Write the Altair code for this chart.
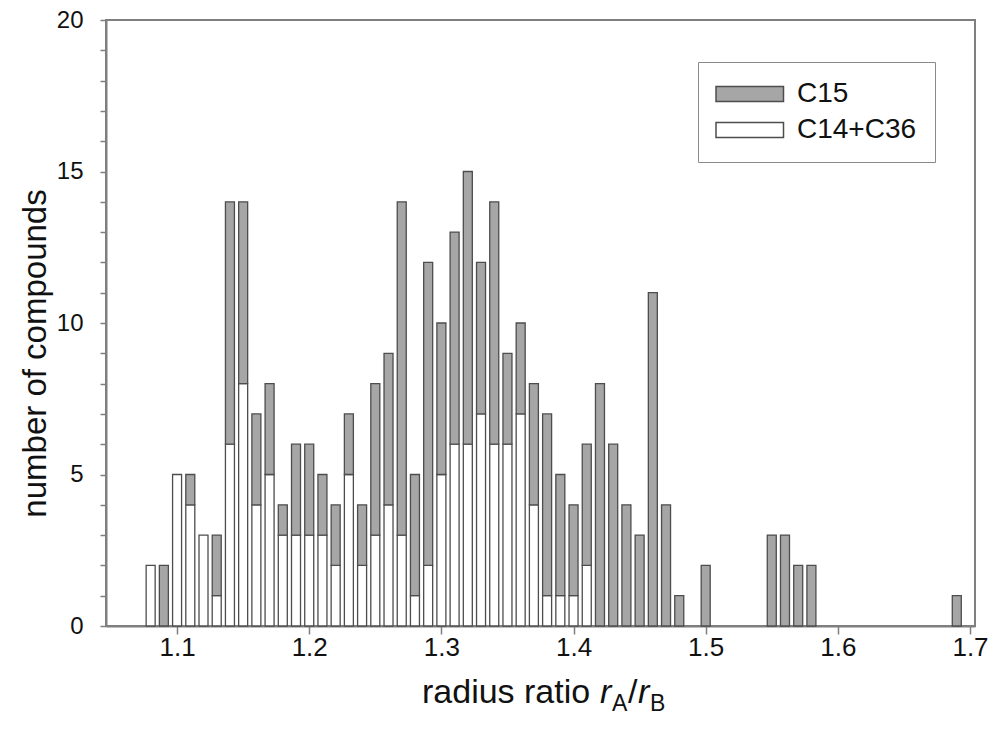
import altair as alt
import pandas as pd

# radius ratio bins (bar centres)
ratio = [1.08, 1.09, 1.10, 1.11, 1.12, 1.13, 1.14, 1.15, 1.16, 1.17,
         1.18, 1.19, 1.20, 1.21, 1.22, 1.23, 1.24, 1.25, 1.26, 1.27,
         1.28, 1.29, 1.30, 1.31, 1.32, 1.33, 1.34, 1.35, 1.36, 1.37,
         1.38, 1.39, 1.40, 1.41, 1.42, 1.43, 1.44, 1.45, 1.46, 1.47,
         1.48, 1.50, 1.55, 1.56, 1.57, 1.58, 1.69]
# C14+C36 counts (white, bottom of stack)
c14_c36 = [2, 0, 5, 4, 3, 1, 6, 8, 4, 5,
           3, 3, 3, 3, 2, 5, 2, 3, 4, 3,
           1, 2, 5, 6, 6, 7, 6, 6, 7, 4,
           1, 1, 1, 2, 0, 0, 0, 0, 0, 0,
           0, 0, 0, 0, 0, 0, 0]
# C15 counts (grey, top of stack)
c15 = [0, 2, 0, 1, 0, 2, 8, 6, 3, 3,
       1, 3, 3, 2, 2, 2, 2, 5, 5, 11,
       4, 10, 5, 7, 9, 5, 8, 3, 3, 4,
       6, 4, 3, 4, 8, 6, 4, 3, 11, 4,
       1, 2, 3, 3, 2, 2, 1]

series_names = ["C15", "C14+C36"]
series_colors = ["#a6a6a6", "#ffffff"]
x_ticks = [1.1, 1.2, 1.3, 1.4, 1.5, 1.6, 1.7]
y_ticks = list(range(0, 21))

rows = []
for r, w, g in zip(ratio, c14_c36, c15):
    rows.append({"ratio": r, "series": "C14+C36", "count": w, "ord": 0})
    rows.append({"ratio": r, "series": "C15", "count": g, "ord": 1})
df = pd.DataFrame(rows)

FONT = "Liberation Sans"
W, H = 869, 606

bars = alt.Chart(df).transform_filter("datum.count > 0").mark_bar(
    size=9, stroke="#4d4d4d", strokeWidth=1.3
).encode(
    x=alt.X("ratio:Q",
            scale=alt.Scale(domain=[1.05, 1.7], nice=False, zero=False),
            axis=alt.Axis(values=x_ticks, format=".1f", title=None,
                          tickSize=8, labelPadding=0, labelFontSize=26,
                          labelFlush=False)),
    y=alt.Y("count:Q", stack="zero",
            scale=alt.Scale(domain=[0, 20], nice=False),
            axis=alt.Axis(values=y_ticks, tickSize=6, labelPadding=17,
                          labelFontSize=24,
                          labelExpr="datum.value == 20 ? '20\u00a0\u00a0\u00a0\u00a0' : (datum.value % 5 == 0 ? datum.label : '')",
                          title="number of compounds", titleFontSize=33,
                          titleFontWeight="normal", titleAngle=-90,
                          titleX=-71, titleY=H / 2 + 30, titleAlign="center",
                          titleBaseline="middle")),
    color=alt.Color("series:N",
                    scale=alt.Scale(domain=series_names, range=series_colors),
                    legend=alt.Legend(
                        title=None, orient="none", legendX=592, legendY=42,
                        symbolType="M-4.5,-1H4.5V1H-4.5Z", symbolSize=225,
                        symbolStrokeColor="#4d4d4d", symbolStrokeWidth=1.5,
                        symbolOffset=19.75, labelOffset=33.25,
                        labelFontSize=28, labelFont=FONT, labelColor="#111",
                        rowPadding=8, padding=18,
                        strokeColor="#8a8a8a", fillColor="white")),
    order=alt.Order("ord:Q"),
)

# x-axis title with italic r and subscripts
title_parts = [
    ("radius ratio ", 316, 683, 34, "normal"),
    ("r", 494, 683, 34, "italic"),
    ("A", 506, 691, 23, "normal"),
    ("/", 522, 683, 34, "normal"),
    ("r", 532, 683, 34, "italic"),
    ("B", 544, 691, 23, "normal"),
]
title_layers = []
for txt, px, py, fs, st in title_parts:
    title_layers.append(
        alt.Chart(pd.DataFrame({"t": [txt]})).mark_text(
            align="left", baseline="alphabetic", font=FONT, fontSize=fs,
            fontStyle=st, color="#111"
        ).encode(text="t:N", x=alt.value(px), y=alt.value(py))
    )

chart = alt.layer(bars, *title_layers).properties(
    width=W, height=H,
    autosize=alt.AutoSizeParams(type="none"),
    padding={"left": 106, "top": 20, "right": 22, "bottom": 114},
).configure_view(
    stroke="#7f7f7f", strokeWidth=2
).configure_axis(
    labelFont=FONT, titleFont=FONT, labelColor="#111", titleColor="#111",
    domainColor="#7f7f7f", domainWidth=2, tickColor="#7f7f7f", tickWidth=1.5,
    grid=False
)

chart.save("out.html", embed_options={"renderer": "svg", "actions": False})
